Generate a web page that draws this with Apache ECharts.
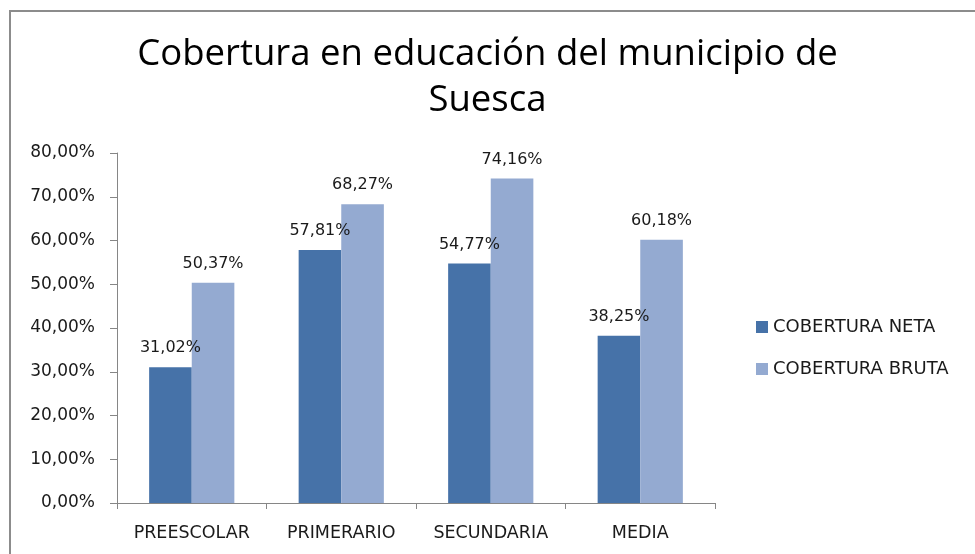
<!DOCTYPE html>
<html><head><meta charset="utf-8">
<script src="https://cdn.jsdelivr.net/npm/echarts@6/dist/echarts.min.js"></script>
<style>html,body{margin:0;padding:0;background:#fff}#c{width:975px;height:554px}</style>
</head><body><div id="c"></div>
<script>
const categories = ['PREESCOLAR', 'PRIMERARIO', 'SECUNDARIA', 'MEDIA'];
const seriesNames = ['COBERTURA NETA', 'COBERTURA BRUTA'];
const neta = [31.02, 57.81, 54.77, 38.25];
const bruta = [50.37, 68.27, 74.16, 60.18];
const yTicks = {min: 0, max: 80, interval: 10};

const fmt = v => v.toFixed(2).replace('.', ',') + '%';
const chart = echarts.init(document.getElementById('c'), null, {renderer: 'canvas'});
const lblFont = 'DejaVu Sans';
chart.setOption({
  animation: false,
  backgroundColor: '#fff',
  graphic: [{type: 'rect', shape: {x: 10, y: 11, width: 1100, height: 700}, style: {fill: 'none', stroke: '#8c8c8c', lineWidth: 2}, silent: true}],
  title: {
    text: 'Cobertura en educación del municipio de\nSuesca',
    left: 'center', top: 27,
    textStyle: {fontFamily: 'Open Sans', fontSize: 36.5, fontWeight: 'normal', color: '#000', lineHeight: 46}
  },
  legend: {
    orient: 'vertical', left: 751, top: 313, itemWidth: 12, itemHeight: 12, itemGap: 24,
    icon: 'rect',
    textStyle: {fontFamily: lblFont, fontSize: 18, color: '#1a1a1a', padding: [0,0,0,0]},
    data: seriesNames
  },
  grid: {left: 117, right: 260, top: 153, bottom: 51, containLabel: false},
  xAxis: {
    type: 'category', data: categories,
    axisLine: {lineStyle: {color: '#868686', width: 1}},
    axisTick: {show: true, length: 6, lineStyle: {color: '#868686'}},
    axisLabel: {interval: 0, fontFamily: lblFont, fontSize: 17.5, color: '#1a1a1a', margin: 21}
  },
  yAxis: {
    type: 'value', min: yTicks.min, max: yTicks.max, interval: yTicks.interval,
    axisLine: {show: true, lineStyle: {color: '#868686', width: 1}},
    axisTick: {show: true, length: 7, lineStyle: {color: '#868686'}},
    splitLine: {show: false},
    axisLabel: {fontFamily: lblFont, fontSize: 17, color: '#1a1a1a', margin: 22, formatter: v => fmt(v)}
  },
  series: [
    {name: seriesNames[0], type: 'bar', data: neta, barGap: '0%', barCategoryGap: '43%',
     itemStyle: {color: '#4672A8'},
     label: {show: true, position: 'top', distance: 11, fontFamily: lblFont, fontSize: 16, color: '#1a1a1a', formatter: p => fmt(p.value)}},
    {name: seriesNames[1], type: 'bar', data: bruta, barGap: '0%', barCategoryGap: '43%',
     itemStyle: {color: '#94AAD1'},
     label: {show: true, position: 'top', distance: 11, fontFamily: lblFont, fontSize: 16, color: '#1a1a1a', formatter: p => fmt(p.value)}}
  ]
});
</script></body></html>
